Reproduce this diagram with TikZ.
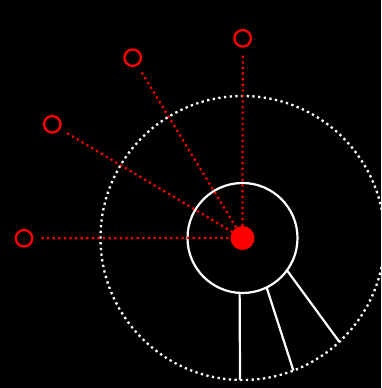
\documentclass[tikz,border=0pt]{standalone}
\usetikzlibrary{positioning}
\begin{document}
\begin{tikzpicture}[
            x=1pt, y=1pt,
            hub/.style = {circle, fill=red, minimum size=24pt, inner sep=0pt},
            port/.style = {circle, draw=red, line width=2.3pt, minimum size=16.5pt, inner sep=0pt},
            ring/.style = {circle, draw=white, line width=2.2pt, minimum size=110pt, inner sep=0pt, outer sep=0pt},
            zone/.style = {circle, draw=white, line width=2.3pt, dash pattern=on 2.3pt off 3.4pt, minimum size=284pt, inner sep=0pt, outer sep=0pt},
            link/.style = {draw=red, line width=2.2pt, dash pattern=on 2.2pt off 3.4pt, shorten <=8pt},
            spoke/.style = {draw=white, line width=2.2pt},
        ]
            % Background
            \fill[black] (0,0) rectangle (381,388);
            \clip (0,0) rectangle (381,388);

            % Range circles around the hub
            \node[zone] (zone) at (242.5,150) {};
            \node[ring] (ring) at (242.5,150) {};
            \node[hub] (hub) at (242.5,150) {};

            % Outlying ports
            \node[port] (p1) at (242.7,349.7) {};
            \node[port] (p2) at (132.7,330.3) {};
            \node[port] (p3) at (52.3,263.7) {};
            \node[port] (p4) at (24,149.7) {};

            % Spokes between inner and outer circle
            \draw[spoke] (ring.-93.1) -- (zone.-91.2);
            \draw[spoke] (ring.-64.8) -- (zone.-69.3);
            \draw[spoke] (ring.-36.2) -- (zone.-47.6);

            % Dotted links from ports to the hub
            \draw[link] (p1) -- (hub);
            \draw[link] (p2) -- (hub);
            \draw[link] (p3) -- (hub);
            \draw[link] (p4) -- (hub);
        \end{tikzpicture}
\end{document}
